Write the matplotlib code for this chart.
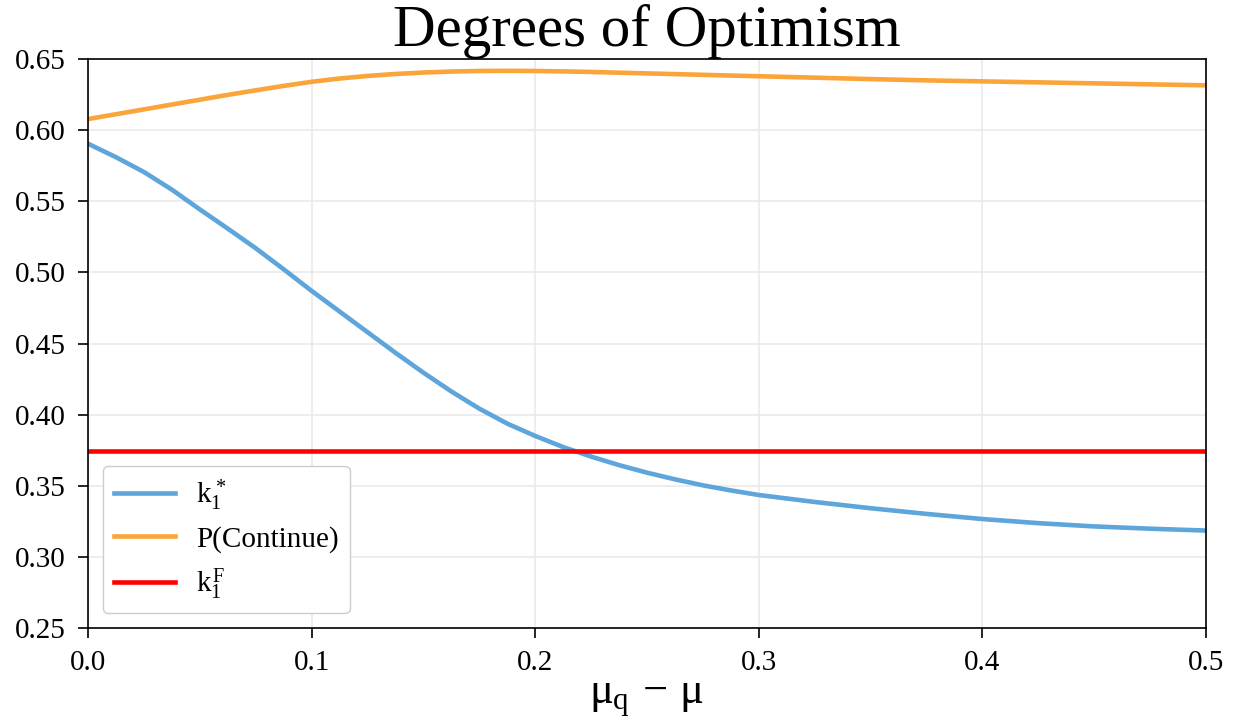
import matplotlib
matplotlib.use('Agg')
import matplotlib.pyplot as plt

# Шрифты в стиле Times, формулы прямым начертанием
plt.rcParams['font.family'] = 'Liberation Serif'
plt.rcParams['mathtext.fontset'] = 'custom'
plt.rcParams['mathtext.rm'] = 'Liberation Serif'
plt.rcParams['mathtext.it'] = 'Liberation Serif'

# Данные
mu_diff = [0.0, 0.0125, 0.025, 0.0375, 0.05, 0.0625, 0.075, 0.0875, 0.1, 0.1125,
           0.125, 0.1375, 0.15, 0.1625, 0.175, 0.1875, 0.2, 0.2125, 0.225, 0.2375,
           0.25, 0.2625, 0.275, 0.2875, 0.3, 0.325, 0.35, 0.375, 0.4, 0.425,
           0.45, 0.475, 0.5]
k1_star = [0.5905, 0.5810, 0.5706, 0.5582, 0.5443, 0.5308, 0.5170, 0.5022, 0.4870, 0.4725,
           0.4580, 0.4435, 0.4295, 0.4163, 0.4042, 0.3937, 0.3850, 0.3772, 0.3705, 0.3645,
           0.3592, 0.3545, 0.3503, 0.3467, 0.3435, 0.3386, 0.3342, 0.3302, 0.3266, 0.3237,
           0.3214, 0.3198, 0.3185]
p_continue = [0.6078, 0.6112, 0.6146, 0.6180, 0.6214, 0.6248, 0.6280, 0.6311, 0.6340, 0.6363,
              0.6381, 0.6395, 0.6405, 0.6412, 0.6416, 0.6417, 0.6416, 0.6413, 0.6409, 0.6404,
              0.6399, 0.6394, 0.6389, 0.6384, 0.6379, 0.6369, 0.6359, 0.6350, 0.6343, 0.6336,
              0.6329, 0.6322, 0.6315]
k1_F = 0.3745

fig = plt.figure(figsize=(12.34, 7.27), dpi=100)
ax = fig.add_axes([0.0713, 0.1362, 0.9060, 0.7826])

ax.plot(mu_diff, k1_star, color='#5DA5DA', linewidth=3.3, label=r'$k_1^*$')
ax.plot(mu_diff, p_continue, color='#FAA43A', linewidth=3.3, label='P(Continue)')
ax.axhline(k1_F, color='#FF0000', linewidth=3.3, label=r'$k_1^F$')

ax.set_xlim(0, 0.5)
ax.set_ylim(0.25, 0.65)
ax.set_xticks([0.0, 0.1, 0.2, 0.3, 0.4, 0.5])
ax.set_yticks([0.25, 0.30, 0.35, 0.40, 0.45, 0.50, 0.55, 0.60, 0.65])
ax.tick_params(labelsize=21, direction='out', length=7, width=1.2, pad=9)
ax.grid(True, color='#e8e8e8', linewidth=1.1)
for s in ax.spines.values():
    s.set_linewidth(1.2)

ax.set_title('Degrees of Optimism', fontsize=42.5, pad=6)
ax.set_xlabel(r'$\mu_q\,-\,\mu$', fontsize=32, labelpad=2)

ax.legend(loc='lower left', fontsize=21, framealpha=1, edgecolor='#cccccc',
          handlelength=2.1, handletextpad=0.7, borderpad=0.4, labelspacing=0.45)

plt.savefig('out.png', dpi=100)
plt.close()
